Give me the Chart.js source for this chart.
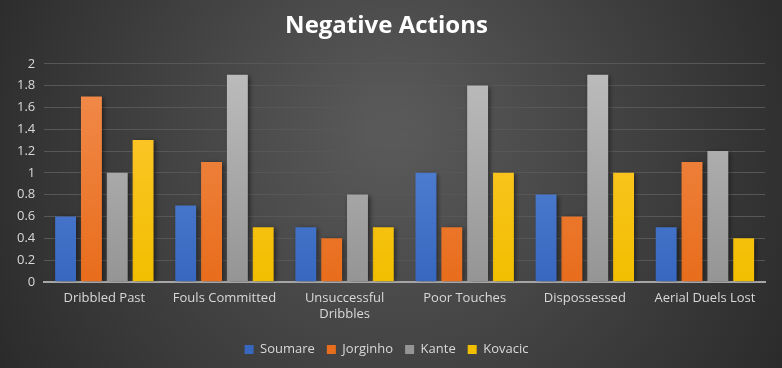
<!DOCTYPE html>
<html>
<head>
<meta charset="utf-8">
<script src="https://cdn.jsdelivr.net/npm/chart.js@4"></script>
<style>
  html, body { margin: 0; padding: 0; background: #3a3a3a; }
  #wrap { width: 782px; height: 368px; }
</style>
</head>
<body>
<div id="wrap"><canvas id="negChart"></canvas></div>
<script>
const categories = ['Dribbled Past', 'Fouls Committed', ['Unsuccessful', 'Dribbles'], 'Poor Touches', 'Dispossessed', 'Aerial Duels Lost'];
const soumare  = [0.6, 0.7, 0.5, 1.0, 0.8, 0.5];
const jorginho = [1.7, 1.1, 0.4, 0.5, 0.6, 1.1];
const kante    = [1.0, 1.9, 0.8, 1.8, 1.9, 1.2];
const kovacic  = [1.3, 0.5, 0.5, 1.0, 1.0, 0.4];

const FONT = '"Open Sans", Lato, sans-serif';

// vertical gradient per bar colour, like the office style fills
function grad(top, bottom) {
  return function(c) {
    const area = c.chart.chartArea;
    if (!area) return bottom;
    const g = c.chart.ctx.createLinearGradient(0, area.top, 0, area.bottom);
    g.addColorStop(0, top);
    g.addColorStop(1, bottom);
    return g;
  };
}

const bgPlugin = {
  id: 'bg',
  beforeDraw(chart) {
    const ctx = chart.ctx, w = chart.width, h = chart.height;
    const g = ctx.createRadialGradient(w / 2, h * 0.35, 20, w / 2, h * 0.45, w * 0.62);
    g.addColorStop(0, '#595959');
    g.addColorStop(1, '#262626');
    ctx.save();
    ctx.fillStyle = g;
    ctx.fillRect(0, 0, w, h);
    ctx.restore();
  }
};

const shadowPlugin = {
  id: 'barShadow',
  beforeDatasetsDraw(chart) {
    const ctx = chart.ctx;
    ctx.save();
    ctx.shadowColor = 'rgba(0,0,0,0.55)';
    ctx.shadowBlur = 5;
    ctx.shadowOffsetX = 2;
    ctx.shadowOffsetY = 1;
  },
  afterDatasetsDraw(chart) {
    chart.ctx.restore();
  }
};

new Chart(document.getElementById('negChart').getContext('2d'), {
  type: 'bar',
  data: {
    labels: categories,
    datasets: [
      { label: 'Soumare',  data: soumare,  backgroundColor: grad('#5f8fdc', '#3867c0') },
      { label: 'Jorginho', data: jorginho, backgroundColor: grad('#f28d4f', '#e86d1c') },
      { label: 'Kante',    data: kante,    backgroundColor: grad('#bdbdbd', '#959595') },
      { label: 'Kovacic',  data: kovacic,  backgroundColor: grad('#ffc838', '#f2bf00') }
    ]
  },
  options: {
    responsive: true,
    maintainAspectRatio: false,
    animation: false,
    categoryPercentage: 0.86,
    barPercentage: 0.81,
    layout: { padding: { left: 8, right: 17, top: 4, bottom: 2 } },
    plugins: {
      title: {
        display: true,
        text: 'Negative Actions',
        color: '#ffffff',
        font: { family: FONT, size: 24, weight: 'bold' },
        padding: { top: 8, bottom: 23 }
      },
      legend: {
        position: 'bottom',
        labels: {
          color: '#d9d9d9',
          font: { family: FONT, size: 13 },
          boxWidth: 9,
          boxHeight: 9,
          padding: 12
        }
      },
      tooltip: { enabled: false }
    },
    scales: {
      x: {
        grid: { display: false, drawTicks: false },
        border: { color: '#a6a6a6', width: 2 },
        ticks: {
          color: '#d9d9d9',
          font: { family: FONT, size: 13 },
          padding: 9,
          maxRotation: 0,
          autoSkip: false
        }
      },
      y: {
        min: 0,
        max: 2,
        grid: { color: '#575757', drawTicks: false },
        border: { display: false },
        ticks: {
          stepSize: 0.2,
          color: '#d9d9d9',
          font: { family: FONT, size: 13 },
          padding: 9,
          callback: v => Number(v.toFixed(1)).toString()
        }
      }
    }
  },
  plugins: [bgPlugin, shadowPlugin]
});
</script>
</body>
</html>
